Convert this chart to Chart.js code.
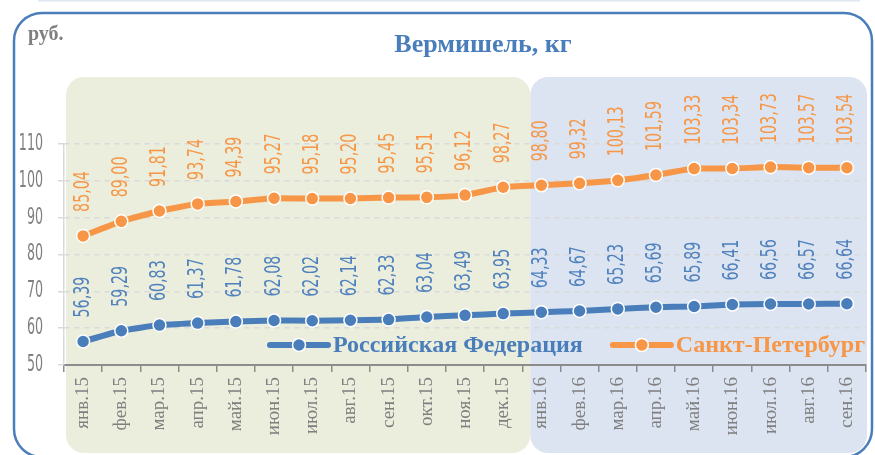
<!DOCTYPE html>
<html>
<head>
<meta charset="utf-8">
<script src="https://cdn.jsdelivr.net/npm/chart.js@4"></script>
<style>
  body { margin: 0; background: #fff; }
  canvas { display: block; }
</style>
</head>
<body>
<canvas id="noodleChart" width="875" height="455"></canvas>
<script>
const months = ['янв.15', 'фев.15', 'мар.15', 'апр.15', 'май.15', 'июн.15', 'июл.15', 'авг.15', 'сен.15', 'окт.15', 'ноя.15', 'дек.15',
                'янв.16', 'фев.16', 'мар.16', 'апр.16', 'май.16', 'июн.16', 'июл.16', 'авг.16', 'сен.16'];
const rfPrices = [56.39, 59.29, 60.83, 61.37, 61.78, 62.08, 62.02, 62.14, 62.33, 63.04, 63.49, 63.95,
                  64.33, 64.67, 65.23, 65.69, 65.89, 66.41, 66.56, 66.57, 66.64];
const spbPrices = [85.04, 89.00, 91.81, 93.74, 94.39, 95.27, 95.18, 95.20, 95.45, 95.51, 96.12, 98.27,
                   98.80, 99.32, 100.13, 101.59, 103.33, 103.34, 103.73, 103.57, 103.54];
const seriesNames = ['Российская Федерация', 'Санкт-Петербург'];

const BLUE = '#4a7ebb';
const ORANGE = '#f79646';
const GRAY = '#7f7f7f';

function fmt(v) {
    return v.toFixed(2).replace('.', ',');
}

// background panels, frame, title, custom labels
const decorPlugin = {
    id: 'decor',
    beforeDraw(chart) {
        const ctx = chart.ctx;
        const area = chart.chartArea;
        const xs = chart.scales.x;
        const firstNew = months.findIndex(m => m.endsWith('.16'));
        const split = (xs.getPixelForValue(firstNew - 1) + xs.getPixelForValue(firstNew)) / 2 + 8;

        ctx.save();
        ctx.fillStyle = '#fff';
        ctx.fillRect(0, 0, chart.width, chart.height);

        // faint strip at the very top
        ctx.fillStyle = '#dfe7f2';
        ctx.fillRect(38, 0, 822, 1.5);

        ctx.fillStyle = '#ebeedd';
        ctx.beginPath();
        ctx.roundRect(area.left + 2, 77, split - area.left - 2, 376, 18);
        ctx.fill();

        ctx.fillStyle = '#dbe4f0';
        ctx.beginPath();
        ctx.roundRect(split, 77, area.right + 1 - split, 376, 18);
        ctx.fill();

        ctx.strokeStyle = BLUE;
        ctx.lineWidth = 2.5;
        ctx.beginPath();
        ctx.roundRect(14, 13, 858, 444, 28);
        ctx.stroke();

        ctx.fillStyle = GRAY;
        ctx.font = 'bold 20px "Liberation Serif"';
        ctx.textBaseline = 'alphabetic';
        ctx.textAlign = 'left';
        ctx.fillText('руб.', 28, 40);

        ctx.fillStyle = BLUE;
        ctx.font = 'bold 26px "Liberation Serif"';
        ctx.textAlign = 'center';
        ctx.textBaseline = 'middle';
        ctx.fillText('Вермишель, кг', 483, 45);
        ctx.restore();
    },
    afterDatasetsDraw(chart) {
        const ctx = chart.ctx;
        const ys = chart.scales.y;

        // y tick labels, narrow digits
        ctx.save();
        ctx.fillStyle = GRAY;
        ctx.font = '23px "DejaVu Sans"';
        ctx.textBaseline = 'middle';
        ctx.textAlign = 'right';
        ys.ticks.forEach((t, i) => {
            const y = ys.getPixelForTick(i);
            ctx.save();
            ctx.translate(43, y);
            ctx.scale(0.55, 1);
            ctx.fillText(String(t.value), 0, 0);
            ctx.restore();
        });
        ctx.restore();

        // data labels, rotated
        chart.data.datasets.forEach((ds, di) => {
            const meta = chart.getDatasetMeta(di);
            ctx.save();
            ctx.fillStyle = di === 0 ? '#4f81bd' : ORANGE;
            ctx.font = '21px "DejaVu Sans"';
            ctx.textBaseline = 'middle';
            ctx.textAlign = 'left';
            meta.data.forEach((pt, i) => {
                ctx.save();
                ctx.translate(pt.x, pt.y - 24);
                ctx.rotate(-Math.PI / 2);
                ctx.scale(0.68, 1);
                ctx.fillText(fmt(ds.data[i]), 0, 0);
                ctx.restore();
            });
            ctx.restore();
        });

        // legend inside the plot
        let x = 270;
        const y = 345;
        ctx.save();
        ctx.font = 'bold 24px "Liberation Serif"';
        ctx.textBaseline = 'middle';
        ctx.textAlign = 'left';
        chart.data.datasets.forEach(ds => {
            ctx.strokeStyle = ds.borderColor;
            ctx.lineWidth = 6;
            ctx.lineCap = 'round';
            ctx.beginPath();
            ctx.moveTo(x, y);
            ctx.lineTo(x + 58, y);
            ctx.stroke();
            ctx.fillStyle = ds.borderColor;
            ctx.strokeStyle = '#fff';
            ctx.lineWidth = 1.5;
            ctx.beginPath();
            ctx.arc(x + 29, y, 6.5, 0, Math.PI * 2);
            ctx.fill();
            ctx.stroke();
            ctx.fillStyle = ds.borderColor;
            ctx.fillText(ds.label, x + 63, y + 1);
            x += 63 + ctx.measureText(ds.label).width + 30;
        });
        ctx.restore();
    }
};

const lineStyle = {
    borderWidth: 6,
    pointRadius: 6.5,
    pointHoverRadius: 6.5,
    pointBorderColor: '#fff',
    pointBorderWidth: 1.5,
    tension: 0.15
};

new Chart(document.getElementById('noodleChart').getContext('2d'), {
    type: 'line',
    data: {
        labels: months,
        datasets: [
            Object.assign({
                label: seriesNames[0],
                data: rfPrices,
                borderColor: BLUE,
                backgroundColor: BLUE,
                pointBackgroundColor: BLUE
            }, lineStyle),
            Object.assign({
                label: seriesNames[1],
                data: spbPrices,
                borderColor: ORANGE,
                backgroundColor: ORANGE,
                pointBackgroundColor: ORANGE
            }, lineStyle)
        ]
    },
    options: {
        responsive: false,
        animation: false,
        devicePixelRatio: 1,
        layout: {
            padding: { top: 144, right: 9, bottom: 0, left: 0 }
        },
        scales: {
            x: {
                offset: true,
                grid: {
                    display: true,
                    offset: true,
                    drawOnChartArea: false,
                    tickLength: 7,
                    color: '#8c8c8c',
                    lineWidth: 1.5
                },
                border: { color: '#8c8c8c', width: 2 },
                ticks: {
                    color: GRAY,
                    font: { family: '"Liberation Serif"', size: 19 },
                    minRotation: 90,
                    maxRotation: 90,
                    autoSkip: false,
                    padding: 5
                },
                afterFit: s => { s.height = 90; }
            },
            y: {
                min: 50,
                max: 110,
                ticks: { stepSize: 10, display: false },
                grid: {
                    color: '#d9d9d9',
                    lineWidth: 1.5,
                    tickLength: 6,
                    tickBorderDash: [5, 5]
                },
                border: { color: '#d9d9d9', width: 1.5, dash: [5, 5] },
                afterFit: s => { s.width = 64; }
            }
        },
        plugins: {
            legend: { display: false },
            title: { display: false },
            tooltip: { enabled: false }
        }
    },
    plugins: [decorPlugin]
});
</script>
</body>
</html>
